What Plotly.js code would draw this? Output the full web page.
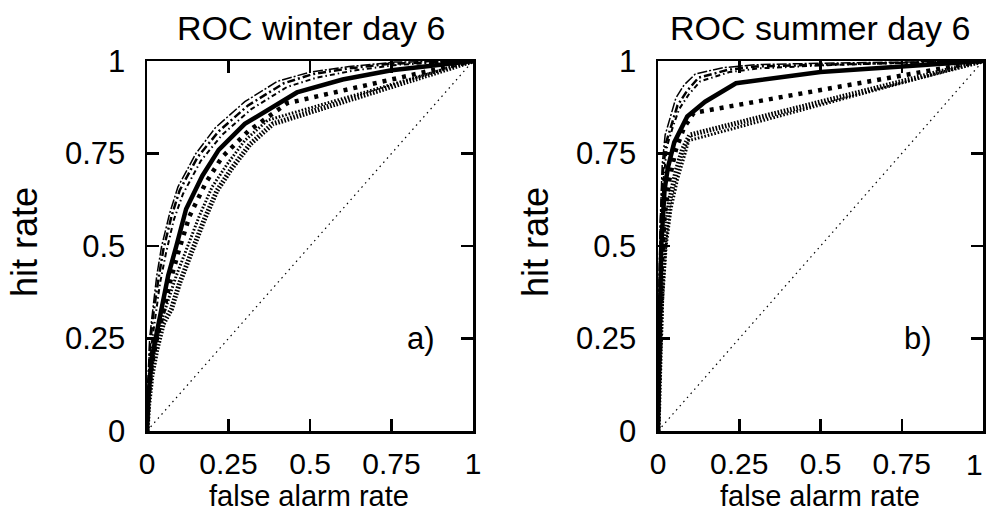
<!DOCTYPE html>
<html><head><meta charset="utf-8">
<script src="https://cdn.plot.ly/plotly-3.0.1.min.js"></script>
<style>html,body{margin:0;padding:0;background:#fff}</style>
</head><body>
<div id="chart" style="width:988px;height:512px"></div>
<script>
// ---- data (false alarm rate / hit rate) ----
const tickVals = [0, 0.25, 0.5, 0.75, 1];
const tickTextA = ["0", "0.25", "0.5", "0.75", "1"];
const tickTextB = ["0", "0.25", "0.5", "0.75", ""];   // last label of panel b drawn as an annotation (kept inside the page)
const lastTickB = "1";
const diag = [0, 1];

// panel a: winter day 6
const faA_solid = [0,0.005,0.015,0.03,0.046,0.065,0.09,0.12,0.17,0.22,0.30,0.40,0.46,0.60,0.75,0.9,1];
const hitA_solid = [0,0.1,0.2,0.27,0.33,0.42,0.5,0.6,0.69,0.76,0.83,0.885,0.915,0.95,0.975,0.99,1];
const faA_dd1 = [0,0.003,0.01,0.02,0.035,0.05,0.075,0.1,0.155,0.22,0.31,0.42,0.51,0.62,0.75,1];
const hitA_dd1 = [0,0.12,0.24,0.32,0.41,0.49,0.58,0.65,0.74,0.81,0.88,0.94,0.965,0.98,0.993,1];
const faA_dd2 = [0,0.004,0.012,0.025,0.04,0.058,0.082,0.11,0.165,0.23,0.32,0.43,0.52,0.64,0.77,1];
const hitA_dd2 = [0,0.11,0.22,0.31,0.4,0.48,0.57,0.64,0.73,0.8,0.87,0.93,0.955,0.975,0.99,1];
const faA_dd3 = [0,0.003,0.008,0.018,0.03,0.045,0.07,0.095,0.15,0.21,0.3,0.4,0.5,0.62,0.76,1];
const hitA_dd3 = [0,0.13,0.25,0.33,0.42,0.5,0.59,0.66,0.75,0.82,0.89,0.945,0.97,0.985,0.997,1];
const faA_sq = [0,0.005,0.015,0.03,0.05,0.07,0.095,0.13,0.18,0.23,0.31,0.43,0.6,0.8,1];
const hitA_sq = [0,0.09,0.18,0.25,0.32,0.4,0.48,0.58,0.67,0.74,0.81,0.886,0.92,0.96,1];
const faA_fd1 = [0,0.005,0.015,0.03,0.05,0.075,0.1,0.14,0.175,0.215,0.26,0.316,0.386,1];
const hitA_fd1 = [0,0.07,0.15,0.22,0.29,0.33,0.4,0.49,0.57,0.65,0.71,0.775,0.83,1];
const faA_fd2 = [0,0.004,0.012,0.025,0.045,0.068,0.09,0.125,0.16,0.2,0.245,0.3,0.37,1];
const hitA_fd2 = [0,0.08,0.16,0.23,0.3,0.36,0.42,0.5,0.58,0.66,0.72,0.785,0.84,1];

// panel b: summer day 6
const faB_solid = [0,0.004,0.01,0.02,0.03,0.05,0.09,0.145,0.24,0.5,0.75,1];
const hitB_solid = [0,0.25,0.5,0.65,0.71,0.78,0.85,0.89,0.94,0.97,0.984,1];
const faB_dd1 = [0,0.003,0.008,0.015,0.025,0.042,0.06,0.09,0.125,0.215,0.3,0.5,0.75,1];
const hitB_dd1 = [0,0.3,0.55,0.7,0.78,0.83,0.88,0.92,0.955,0.976,0.985,0.99,0.996,1];
const faB_dd2 = [0,0.003,0.009,0.017,0.028,0.045,0.065,0.095,0.13,0.22,0.31,0.5,0.75,1];
const hitB_dd2 = [0,0.28,0.53,0.68,0.77,0.82,0.87,0.91,0.945,0.97,0.98,0.988,0.995,1];
const faB_dd3 = [0,0.002,0.007,0.013,0.022,0.038,0.055,0.08,0.115,0.2,0.3,0.5,0.75,1];
const hitB_dd3 = [0,0.32,0.57,0.72,0.8,0.85,0.9,0.935,0.965,0.982,0.99,0.994,0.998,1];
const faB_sq = [0,0.004,0.01,0.02,0.035,0.055,0.08,0.11,1];
const hitB_sq = [0,0.2,0.42,0.58,0.68,0.76,0.82,0.86,1];
const faB_fd1 = [0,0.005,0.012,0.022,0.035,0.055,0.075,0.098,1];
const hitB_fd1 = [0,0.18,0.38,0.52,0.62,0.7,0.76,0.8,1];
const faB_fd2 = [0,0.006,0.014,0.025,0.04,0.06,0.08,0.095,1];
const hitB_fd2 = [0,0.16,0.35,0.5,0.6,0.68,0.74,0.785,1];

// ---- styles ----
const S = {
  solid: {color:'#000', width:4.5, dash:'solid'},
  dd1: {color:'#000', width:2.5, dash:'8px,3px,2px,3px'},
  dd2: {color:'#000', width:2, dash:'5px,3px,1.5px,3px'},
  dd3: {color:'#000', width:1.5, dash:'10px,2px,2px,2px'},
  sq: {color:'#000', width:4.5, dash:'4px,6px'},
  fd1: {color:'#000', width:5, dash:'1.6px,1.6px'},
  fd2: {color:'#000', width:3, dash:'1.6px,1.8px'},
  diag: {color:'#000', width:1.2, dash:'1.5px,4px'}
};
function tr(x, y, st, xa, ya) {
  return {x:x, y:y, mode:'lines', line:Object.assign({shape:'linear'}, st), xaxis:xa, yaxis:ya, hoverinfo:'skip', showlegend:false};
}
const traces = [
  tr(diag, diag, S.diag, 'x', 'y'),
  tr(faA_fd2, hitA_fd2, S.fd2, 'x', 'y'),
  tr(faA_fd1, hitA_fd1, S.fd1, 'x', 'y'),
  tr(faA_sq, hitA_sq, S.sq, 'x', 'y'),
  tr(faA_dd2, hitA_dd2, S.dd2, 'x', 'y'),
  tr(faA_dd1, hitA_dd1, S.dd1, 'x', 'y'),
  tr(faA_dd3, hitA_dd3, S.dd3, 'x', 'y'),
  tr(faA_solid, hitA_solid, S.solid, 'x', 'y'),
  tr(diag, diag, S.diag, 'x2', 'y2'),
  tr(faB_fd2, hitB_fd2, S.fd2, 'x2', 'y2'),
  tr(faB_fd1, hitB_fd1, S.fd1, 'x2', 'y2'),
  tr(faB_sq, hitB_sq, S.sq, 'x2', 'y2'),
  tr(faB_dd2, hitB_dd2, S.dd2, 'x2', 'y2'),
  tr(faB_dd1, hitB_dd1, S.dd1, 'x2', 'y2'),
  tr(faB_dd3, hitB_dd3, S.dd3, 'x2', 'y2'),
  tr(faB_solid, hitB_solid, S.solid, 'x2', 'y2')
];

const FONT = 'Liberation Sans, Arial, Helvetica, sans-serif';
function ax(domain, anchor, ticktext, standoff, fsize) {
  return {
    domain: domain, anchor: anchor, range: [0, 1], fixedrange: true,
    tickvals: tickVals, ticktext: ticktext,
    ticks: 'inside', ticklen: 12, tickwidth: 2.5, tickcolor: '#000',
    showline: true, linewidth: 2.5, linecolor: '#000', mirror: 'ticks',
    showgrid: false, zeroline: false,
    tickfont: {family: FONT, size: fsize, color: '#000'},
    ticklabelstandoff: standoff, ticklabeloverflow: 'allow'
  };
}
const yDom = [81/512, 451/512];
const layout = {
  width: 988, height: 512,
  margin: {l: 0, r: 0, t: 0, b: 0},
  paper_bgcolor: '#fff', plot_bgcolor: '#fff',
  showlegend: false,
  xaxis: ax([147/988, 473/988], 'y', tickTextA, 4, 30),
  yaxis: ax(yDom, 'x', tickTextA, 13, 31),
  xaxis2: ax([658/988, 983/988], 'y2', tickTextB, 4, 30),
  yaxis2: ax(yDom, 'x2', tickTextA, 13, 31),
  annotations: [
    {text:'ROC winter day 6', xref:'paper', yref:'paper', x:311/988, y:1-28/512, showarrow:false, xanchor:'center', yanchor:'middle', font:{family:FONT, size:34, color:'#000'}},
    {text:'ROC summer day 6', xref:'paper', yref:'paper', x:820/988, y:1-28/512, showarrow:false, xanchor:'center', yanchor:'middle', font:{family:FONT, size:34, color:'#000'}},
    {text:'false alarm rate', xref:'paper', yref:'paper', x:309/988, y:1-496/512, showarrow:false, xanchor:'center', yanchor:'middle', font:{family:FONT, size:29, color:'#000'}},
    {text:'false alarm rate', xref:'paper', yref:'paper', x:820/988, y:1-496/512, showarrow:false, xanchor:'center', yanchor:'middle', font:{family:FONT, size:29, color:'#000'}},
    {text:'hit rate', xref:'paper', yref:'paper', x:24/988, y:1-242/512, showarrow:false, textangle:-90, xanchor:'center', yanchor:'middle', font:{family:FONT, size:36, color:'#000'}},
    {text:'hit rate', xref:'paper', yref:'paper', x:535/988, y:1-242/512, showarrow:false, textangle:-90, xanchor:'center', yanchor:'middle', font:{family:FONT, size:36, color:'#000'}},
    {text:'a)', xref:'x', yref:'y', x:0.84, y:0.25, showarrow:false, xanchor:'center', yanchor:'middle', font:{family:FONT, size:31, color:'#000'}},
    {text:'b)', xref:'x2', yref:'y2', x:0.80, y:0.25, showarrow:false, xanchor:'center', yanchor:'middle', font:{family:FONT, size:31, color:'#000'}},
    {text:lastTickB, xref:'paper', yref:'paper', x:985/988, y:1-464/512, showarrow:false, xanchor:'right', yanchor:'middle', font:{family:FONT, size:30, color:'#000'}}
  ]
};
Plotly.newPlot('chart', traces, layout, {staticPlot: true, displayModeBar: false});
</script>
</body></html>
